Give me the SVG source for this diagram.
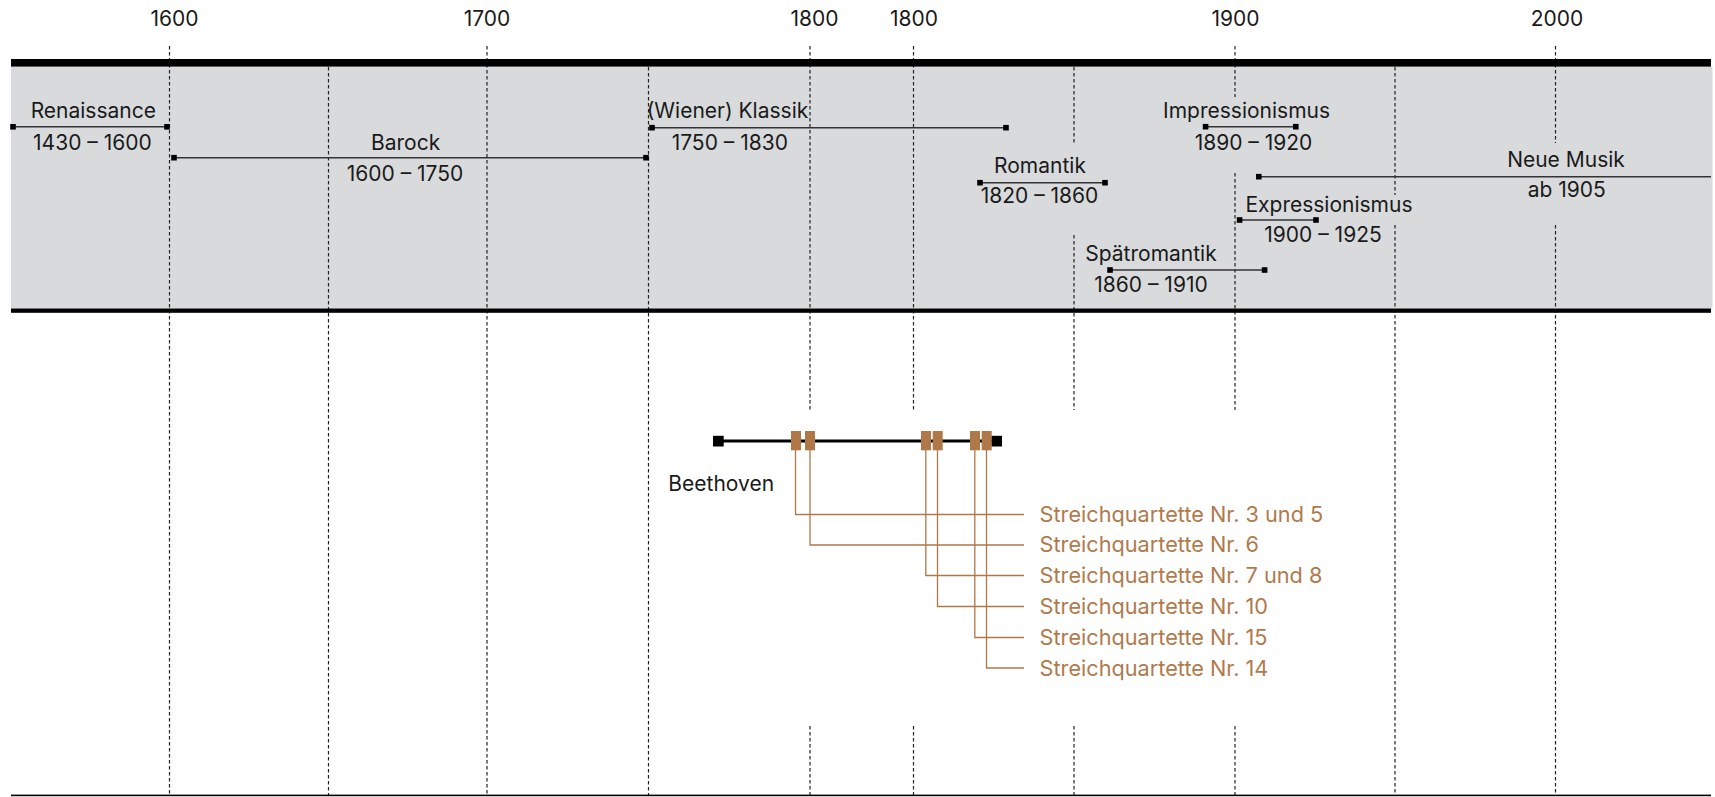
<svg xmlns="http://www.w3.org/2000/svg" width="1715" height="797" viewBox="0 0 1715 797">
<style>
text{font-family:Inter,"Noto Sans","Liberation Sans",sans-serif;font-size:21px;fill:#1a1a1a}
.c{text-anchor:middle}
.q{fill:#b07a4c;font-size:21.7px}
.grid{stroke:#222;stroke-width:1.2;stroke-dasharray:3.5 2.5;fill:none}
.per{stroke:#333;stroke-width:1.5}
.sq{fill:#000}
.br{fill:#b07848}
.conn{stroke:#b07848;stroke-width:1.3;fill:none}
</style>
<rect x="0" y="0" width="1715" height="797" fill="#fff"/>
<rect x="11" y="66.5" width="1701.5" height="242" fill="#d9dadc"/>
<g id="grid" class="grid">
<path d="M169.5 46V795"/>
<path d="M328.5 67V795"/>
<path d="M487 46V795"/>
<path d="M648.5 67V795"/>
<path d="M810 46V410M810 726V795"/>
<path d="M913.5 46V410M913.5 726V795"/>
<path d="M1074 67V145M1074 235V410M1074 726V795"/>
<path d="M1235 46V97M1235 173V410M1235 726V795"/>
<path d="M1395 67V195M1395 225V795"/>
<path d="M1555.5 46V143M1555.5 225V795"/>
</g>
<rect x="11" y="59" width="1700" height="7.6" fill="#000"/>
<rect x="11" y="308.5" width="1700" height="4.3" fill="#000"/>
<rect x="11" y="794.6" width="1700" height="1.6" fill="#000"/>
<g id="years">
<text class="c" x="174.5" y="26">1600</text>
<text class="c" x="487" y="26">1700</text>
<text class="c" x="814.5" y="26">1800</text>
<text class="c" x="914" y="26">1800</text>
<text class="c" x="1235.5" y="26">1900</text>
<text class="c" x="1557" y="26">2000</text>
</g>
<g id="renaissance">
<line class="per" x1="13" y1="126.8" x2="167" y2="126.8"/>
<rect class="sq" x="10.2" y="124" width="5.6" height="5.6"/>
<rect class="sq" x="164.2" y="124" width="5.6" height="5.6"/>
<text class="c" x="93.3" y="118.3">Renaissance</text>
<text class="c" x="92.4" y="150">1430 – 1600</text>
</g>
<g id="barock">
<line class="per" x1="174" y1="157.7" x2="646" y2="157.7"/>
<rect class="sq" x="171.2" y="154.9" width="5.6" height="5.6"/>
<rect class="sq" x="643.2" y="154.9" width="5.6" height="5.6"/>
<text class="c" x="405.6" y="150">Barock</text>
<text class="c" x="405" y="181">1600 – 1750</text>
</g>
<g id="klassik">
<line class="per" x1="652" y1="127.7" x2="1006" y2="127.7"/>
<rect class="sq" x="649.2" y="124.9" width="5.6" height="5.6"/>
<rect class="sq" x="1003.2" y="124.9" width="5.6" height="5.6"/>
<text class="c" x="727.5" y="118.3">(Wiener) Klassik</text>
<text class="c" x="729.8" y="150">1750 – 1830</text>
</g>
<g id="romantik">
<line class="per" x1="980" y1="182.7" x2="1105" y2="182.7"/>
<rect class="sq" x="977.2" y="179.9" width="5.6" height="5.6"/>
<rect class="sq" x="1102.2" y="179.9" width="5.6" height="5.6"/>
<text class="c" x="1040" y="172.7">Romantik</text>
<text class="c" x="1039.5" y="203.3">1820 – 1860</text>
</g>
<g id="spaetromantik">
<line class="per" x1="1110" y1="270" x2="1264.6" y2="270"/>
<rect class="sq" x="1107.2" y="267.2" width="5.6" height="5.6"/>
<rect class="sq" x="1261.8" y="267.2" width="5.6" height="5.6"/>
<text class="c" x="1151" y="260.7">Spätromantik</text>
<text class="c" x="1151" y="291.7">1860 – 1910</text>
</g>
<g id="impressionismus">
<line class="per" x1="1205.6" y1="126.7" x2="1295.8" y2="126.7"/>
<rect class="sq" x="1202.8" y="123.9" width="5.6" height="5.6"/>
<rect class="sq" x="1293" y="123.9" width="5.6" height="5.6"/>
<text class="c" x="1246.6" y="118.3">Impressionismus</text>
<text class="c" x="1253.5" y="150">1890 – 1920</text>
</g>
<g id="neuemusik">
<line class="per" x1="1258.8" y1="176.7" x2="1711" y2="176.7"/>
<rect class="sq" x="1256" y="173.9" width="5.6" height="5.6"/>
<text class="c" x="1566" y="166.7">Neue Musik</text>
<text class="c" x="1566.7" y="197.3">ab 1905</text>
</g>
<g id="expressionismus">
<line class="per" x1="1239.6" y1="220" x2="1316" y2="220"/>
<rect class="sq" x="1236.8" y="217.2" width="5.6" height="5.6"/>
<rect class="sq" x="1313.2" y="217.2" width="5.6" height="5.6"/>
<text class="c" x="1329" y="211.7">Expressionismus</text>
<text class="c" x="1323" y="242.3">1900 – 1925</text>
</g>
<g id="connectors" class="conn">
<path d="M795.5 450V514.5H1024"/>
<path d="M810 450V545H1024"/>
<path d="M925.8 450V575.5H1024"/>
<path d="M937.5 450V606.5H1024"/>
<path d="M974.8 450V637.5H1024"/>
<path d="M986.5 450V668H1024"/>
</g>
<g id="beethoven">
<line x1="718" y1="441" x2="997" y2="441" stroke="#000" stroke-width="3"/>
<rect class="sq" x="713" y="435.8" width="10.7" height="10.7"/>
<rect class="sq" x="991.3" y="435.8" width="10.7" height="10.7"/>
<rect class="br" x="791" y="431" width="10" height="19.3"/>
<rect class="br" x="805" y="431" width="10" height="19.3"/>
<rect class="br" x="921" y="431" width="10" height="19.3"/>
<rect class="br" x="932.7" y="431" width="10" height="19.3"/>
<rect class="br" x="970" y="431" width="10" height="19.3"/>
<rect class="br" x="981.7" y="431" width="10" height="19.3"/>
<text x="668.3" y="490.7">Beethoven</text>
</g>
<g id="quartets">
<text class="q" x="1039.6" y="522.3">Streichquartette Nr. 3 und 5</text>
<text class="q" x="1039.6" y="552.3">Streichquartette Nr. 6</text>
<text class="q" x="1039.6" y="583">Streichquartette Nr. 7 und 8</text>
<text class="q" x="1039.6" y="614">Streichquartette Nr. 10</text>
<text class="q" x="1039.6" y="645">Streichquartette Nr. 15</text>
<text class="q" x="1039.6" y="675.5">Streichquartette Nr. 14</text>
</g>
</svg>
